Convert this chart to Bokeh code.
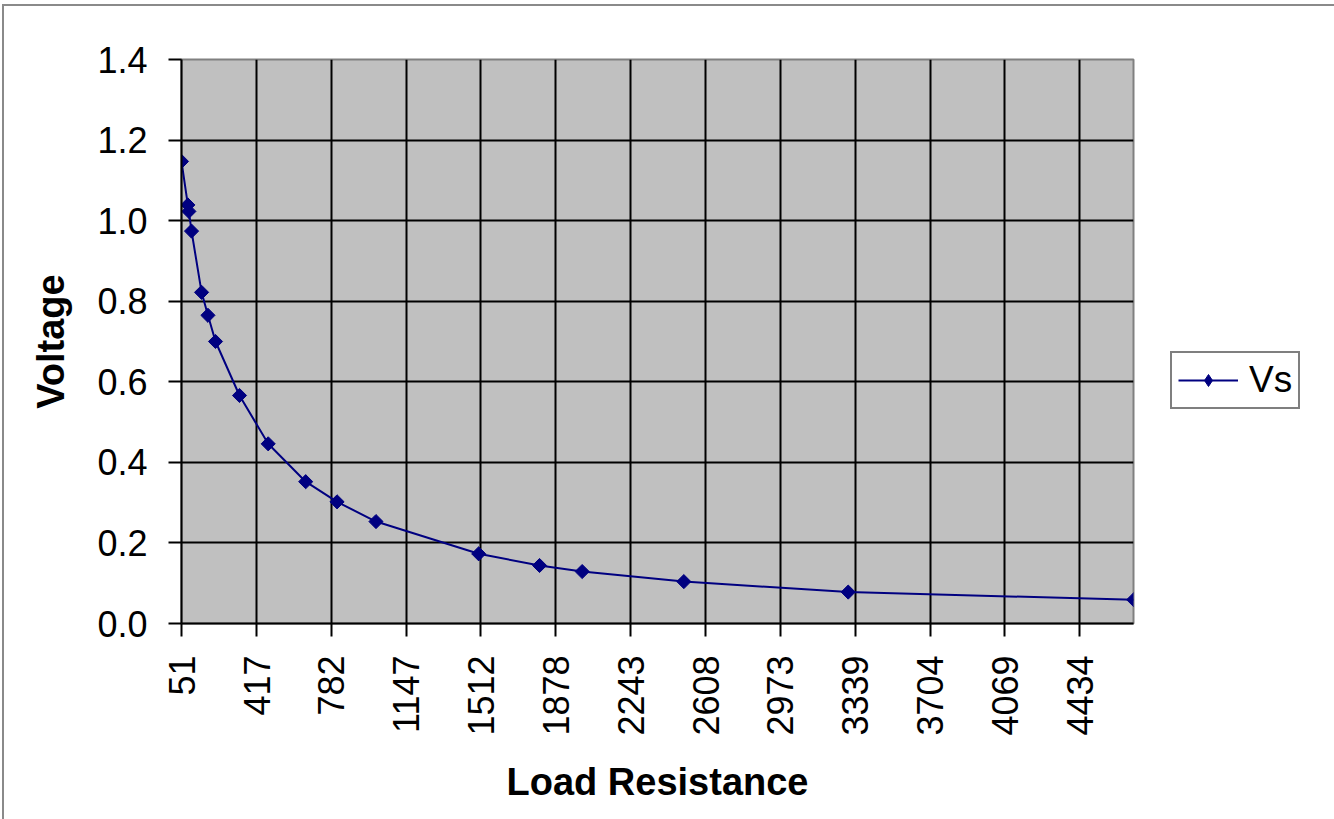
import math
from bokeh.plotting import figure
from bokeh.models import Range1d, FixedTicker, PrintfTickFormatter, Legend, LegendItem
from bokeh.embed import file_html
from bokeh.resources import INLINE

# Data
load_resistance = [51, 82, 87, 100, 149, 180, 217, 334, 474, 657, 810, 1000,
                   1501, 1798, 2006, 2502, 3304, 4697]
vs = [1.147, 1.039, 1.023, 0.974, 0.822, 0.765, 0.700, 0.566, 0.446, 0.352,
      0.302, 0.253, 0.173, 0.144, 0.129, 0.104, 0.078, 0.059]
x_ticks = [51, 417, 782, 1147, 1512, 1878, 2243, 2608, 2973, 3339, 3704, 4069, 4434]
y_ticks = [0.0, 0.2, 0.4, 0.6, 0.8, 1.0, 1.2, 1.4]

FONT = "Liberation Sans"
NAVY = "#000080"

p = figure(
    width=1326, height=820,
    frame_width=952, frame_height=564,
    min_border_left=177, min_border_top=53, min_border_right=197, min_border_bottom=203,
    x_range=Range1d(51, 4696), y_range=Range1d(0, 1.4),
    output_backend="svg", toolbar_location=None,
    background_fill_color="#C0C0C0", border_fill_color="white",
)
# chart-area border (Excel style grey frame)
p.styles = {"border": "2px solid #8a8a8a", "margin-left": "2px", "margin-top": "4px"}
p.outline_line_color = "#808080"
p.outline_line_width = 2

# Axes
for ax in (p.xaxis[0], p.yaxis[0]):
    ax.axis_line_color = "black"
    ax.axis_line_width = 2
    ax.major_tick_line_color = "black"
    ax.major_tick_line_width = 2
    ax.major_tick_in = 0
    ax.major_tick_out = 13
    ax.minor_tick_line_color = None
    ax.major_label_text_font = FONT
    ax.major_label_text_font_size = "36px"
    ax.major_label_text_color = "black"
    ax.axis_label_text_font = FONT
    ax.axis_label_text_font_size = "38px"
    ax.axis_label_text_font_style = "bold"
    ax.axis_label_text_color = "black"

p.xaxis.ticker = FixedTicker(ticks=x_ticks)
p.yaxis.ticker = FixedTicker(ticks=y_ticks)
p.yaxis.formatter = PrintfTickFormatter(format="%.1f")
p.xaxis.major_label_orientation = math.pi / 2
p.xaxis.axis_label = "Load Resistance"
p.yaxis.axis_label = "Voltage"
p.yaxis.major_label_standoff = 21
p.xaxis.major_label_standoff = 19
p.yaxis.axis_label_standoff = 22
p.xaxis.axis_label_standoff = 22

# Grid
p.xgrid.grid_line_color = "black"
p.ygrid.grid_line_color = "black"
p.xgrid.grid_line_width = 2
p.ygrid.grid_line_width = 2

# Series
ln = p.line(load_resistance, vs, line_color=NAVY, line_width=2)
mk = p.scatter(load_resistance, vs, marker="square", angle=math.pi / 4, size=10,
               fill_color=NAVY, line_color=NAVY)
# legend-only diamond sample (single point placed outside the visible range)
leg_mk = p.scatter(x=[-10000], y=[-10], marker="diamond", size=15,
                   fill_color=NAVY, line_color=NAVY)

legend = Legend(items=[LegendItem(label="Vs", renderers=[ln, leg_mk])])
legend.label_text_font = FONT
legend.label_text_font_size = "37px"
legend.label_text_color = "black"
legend.border_line_color = "black"
legend.border_line_width = 2
legend.background_fill_color = "white"
legend.background_fill_alpha = 1
legend.glyph_width = 60
legend.glyph_height = 30
legend.padding = 6
legend.spacing = 0
legend.margin = 0
legend.label_standoff = 11
legend.location = (37, 214)
p.add_layout(legend, "right")

open("out.html", "w").write(file_html(p, INLINE))
